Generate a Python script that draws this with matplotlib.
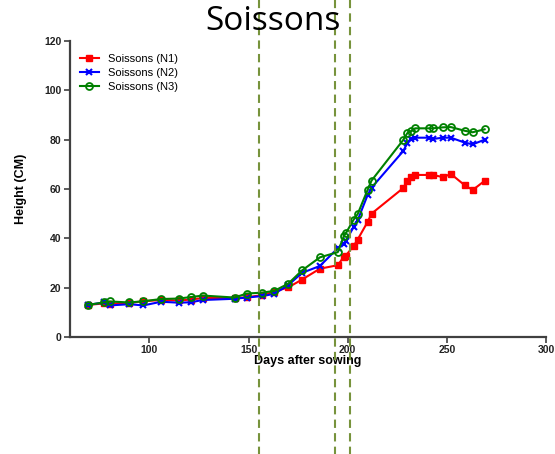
import matplotlib
matplotlib.use("Agg")
import matplotlib.pyplot as plt

days = [69, 77, 80, 90, 97, 106, 115, 121, 127, 143, 149, 157, 163, 170, 177, 186,
        195, 198, 199, 203, 205, 210, 212, 228, 230, 232, 234, 241, 243, 248, 252,
        259, 263, 269]
n1 = [13, 13.6, 13.5, 13.8, 14.5, 15, 14.8, 15.2, 15.8, 15.8, 16.1, 17, 18.4, 20.1,
      23.3, 27.7, 29.1, 32.5, 33, 36.9, 39.5, 46.6, 50, 60.4, 63.4, 65, 65.7, 65.7,
      65.7, 64.8, 66.1, 61.5, 59.6, 63.3]
n2 = [13, 14, 12.8, 13.3, 12.8, 14.3, 13.9, 14.1, 15, 15.5, 16, 16.6, 17.5, 21, 26,
      28.8, 36, 37.8, 38.9, 44.6, 47.3, 57.5, 60.5, 75.4, 78.5, 80.1, 80.8, 80.8,
      80.3, 80.8, 80.8, 78.8, 78.1, 80]
n3 = [13, 14, 14.4, 14, 14.5, 15.4, 15.6, 16.2, 16.8, 16, 17.6, 18, 18.7, 21.6, 27,
      32.3, 34.4, 40.8, 42, 47.6, 49.8, 59.6, 63.4, 79.9, 82.6, 83.5, 84.6, 84.6,
      84.6, 85, 85.1, 83.6, 83, 84.2]
labels = ["Soissons (N1)", "Soissons (N2)", "Soissons (N3)"]
vlines = [155.5, 193.5, 201]
xticks = [100, 150, 200, 250, 300]
yticks = [0, 20, 40, 60, 80, 100, 120]

plt.rcParams['font.family'] = ['Liberation Sans', 'DejaVu Sans']

fig = plt.figure(figsize=(5.55, 4.54), dpi=100)
ax = fig.add_axes([0.126, 0.2577, 0.858, 0.652])

ax.plot(days, n1, color='#FF0000', marker='s', ms=4, lw=1.5, label=labels[0])
ax.plot(days, n2, color='#0000FF', marker='x', ms=4.5, mew=1.5, lw=1.5, label=labels[1])
ax.plot(days, n3, color='#008000', marker='o', ms=5, mfc='none', mew=1.3, lw=1.5,
        label=labels[2])

for v in vlines:
    ax.axvline(v, ymin=-0.4, ymax=1.15, clip_on=False, color='#77933C', lw=1.5,
               ls=(0, (4, 2.5)), zorder=5)

ax.set_xlim(60, 300)
ax.set_ylim(0, 120)
ax.set_xticks(xticks)
ax.set_yticks(yticks)
for s in ['top', 'right']:
    ax.spines[s].set_visible(False)
for s in ['left', 'bottom']:
    ax.spines[s].set_color('#404040')
    ax.spines[s].set_linewidth(1.6)
ax.tick_params(direction='out', length=4, width=1.2, color='#404040',
               labelsize=7.5, pad=2)
for t in ax.get_xticklabels() + ax.get_yticklabels():
    t.set_fontweight('bold')
    t.set_color('#222222')

ax.set_xlabel('Days after sowing', fontsize=9, fontweight='bold', labelpad=0)
ax.set_ylabel('Height (CM)', fontsize=9, fontweight='bold')
ax.yaxis.set_label_coords(-0.09, 0.5)

leg = ax.legend(loc='upper left', frameon=False, fontsize=8, handlelength=1.7,
                bbox_to_anchor=(0.0, 0.99), labelspacing=0.35, handletextpad=0.8)

fig.text(0.492, 0.952, 'Soissons', ha='center', va='center', fontsize=24,
         family=['Open Sans', 'DejaVu Sans'])

fig.savefig('out.png', dpi=100)
